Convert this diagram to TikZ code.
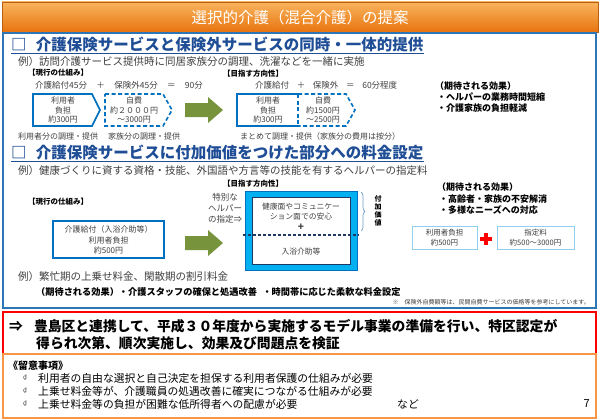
\documentclass[tikz,border=0pt]{standalone}
\usepackage{fontspec}
\setmainfont{Noto Sans CJK JP}
\newfontfamily\dejavu{DejaVu Sans}
\usetikzlibrary{decorations.pathreplacing}
\definecolor{obarA}{HTML}{F9B45E}
\definecolor{obarB}{HTML}{E8740F}
\definecolor{fblue}{HTML}{2E75B6}
\definecolor{tblue}{HTML}{1F4E96}
\definecolor{bblue}{HTML}{0070C0}
\definecolor{agreen}{HTML}{77933C}
\definecolor{cyanb}{HTML}{00B0F0}
\definecolor{navy}{HTML}{1F3864}
\definecolor{lblue}{HTML}{8ED0EE}
\definecolor{txt}{HTML}{404040}
\definecolor{obox}{HTML}{F79646}
\newcommand\fsz[2]{\fontsize{#1}{#2}\selectfont}
\begin{document}
\begin{tikzpicture}[x=1pt,y=-1pt,
  lbl/.style={inner sep=0pt, anchor=west, text=txt},
  ctr/.style={inner sep=0pt, align=center, text=txt},
  hd/.style={inner sep=0pt, anchor=west, font=\fsz{7.5}{9}\bfseries, text=black},
  eff/.style={inner sep=0pt, anchor=west, font=\fsz{9}{11}\bfseries, text=black},
  sect/.style={inner sep=0pt, anchor=west, font=\fsz{15.5}{18}\bfseries, text=tblue},
  sbox/.style={draw=bblue, line width=1.6pt, line join=miter},
  dbox/.style={draw=bblue, line width=1.6pt, dash pattern=on 4pt off 2.5pt},
]
\useasboundingbox (0,0) rectangle (600,420);
\fill[white] (0,0) rectangle (600,420);
% title bar
\shade[top color=obarA, bottom color=obarB] (2,2) rectangle (598,32);
\draw[obarB!80!black, line width=0.5pt] (2,2) rectangle (598,32);
\node[text=white, font=\fsz{15.5}{18}, inner sep=0pt] (title) at (300,18) {選択的介護（混合介護）の提案};
% main frame
\draw[fblue, line width=1.5pt] (3,33) rectangle (596,308);

% ---- section 1
\node[sect] (s1) at (11,45) {□\hspace{0.6em}介護保険サービスと保険外サービスの同時・一体的提供};
\draw[tblue, line width=1pt] ([yshift=-2.5pt]s1.base west) -- ([yshift=-2.5pt]s1.base east);
\node[lbl, font=\fsz{10.5}{12}] (ex1) at (18,62) {例）訪問介護サービス提供時に同居家族分の調理、洗濯などを一緒に実施};
\node[hd] (cur1) at (28,73) {【現行の仕組み】};
\node[hd] (aim1) at (223,74) {【目指す方向性】};
\node[lbl, font=\fsz{8.5}{10}] (eq1) at (35,85) {介護給付45分\hspace{1.1em}＋\hspace{1.1em}保険外45分\hspace{1.1em}＝\hspace{1.1em}90分};
\node[lbl, font=\fsz{8.5}{10}] (eq2) at (255,85) {介護給付\hspace{0.9em}＋\hspace{0.9em}保険外\hspace{0.9em}＝\hspace{0.9em}60分程度};
% boxes row 1
\draw[sbox] (33,94) -- (92,94) -- (100,110) -- (92,126) -- (33,126) -- cycle;
\node[ctr, font=\fsz{8}{9.5}] (b1) at (63,110) {利用者\\負担\\約300円};
\draw[dbox] (105,94) -- (163,94) -- (172,110) -- (163,126) -- (105,126) -- cycle;
\node[ctr, font=\fsz{8}{9.5}] (b2) at (134,110) {自費\\約２０００円\\～3000円};
\draw[sbox] (298,94) -- (237,94) -- (237,126) -- (298,126);
\draw[dbox] (298,94) -- (298,126);
\draw[dbox] (298,94) -- (346,94) -- (355,110) -- (346,126) -- (298,126);
\node[ctr, font=\fsz{8}{9.5}] (b3) at (268,110) {利用者\\負担\\約300円};
\node[ctr, font=\fsz{8}{9.5}] (b4) at (323,110) {自費\\約1500円\\～2500円};
\node[lbl, font=\fsz{8}{10}] (l1) at (18,136) {利用者分の調理・提供};
\node[lbl, font=\fsz{8}{10}] (l2) at (108,136) {家族分の調理・提供};
\node[lbl, font=\fsz{8}{10}] (l3) at (240,136) {まとめて調理・提供（家族分の費用は按分）};
\fill[agreen] (185,103) -- (208,103) -- (208,97) -- (223,110) -- (208,123) -- (208,117) -- (185,117) -- cycle;
\node[eff] (e1) at (435,86) {（期待される効果）};
\node[eff] (e2) at (437,97) {・ヘルパーの業務時間短縮};
\node[eff] (e3) at (437,108) {・介護家族の負担軽減};

% ---- section 2
\node[sect] (s2) at (11,153) {□\hspace{0.6em}介護保険サービスに付加価値をつけた部分への料金設定};
\draw[tblue, line width=1pt] ([yshift=-2.5pt]s2.base west) -- ([yshift=-2.5pt]s2.base east);
\node[lbl, font=\fsz{10.5}{12}] (ex2) at (18,171) {例）健康づくりに資する資格・技能、外国語や方言等の技能を有するヘルパーの指定料};
\node[hd] (aim2) at (223,184) {【目指す方向性】};
\node[hd] (cur2) at (28,202) {【現行の仕組み】};
\draw[bblue, line width=1.3pt] (53,221) rectangle (164,258);
\node[ctr, font=\fsz{8}{10.5}] (b5) at (108.5,240) {介護給付（入浴介助等）\\利用者負担\\約500円};
\fill[agreen] (185,236) -- (208,236) -- (208,230) -- (223,243) -- (208,256) -- (208,250) -- (185,250) -- cycle;
\node[ctr, font=\fsz{8.5}{11}] (sp) at (225,208) {特別な\\ヘルパー\\の指定⇒};
\fill[cyanb] (245,191) rectangle (357,270);
\draw[bblue, line width=0.6pt] (245,191) rectangle (357,270);
\fill[white] (252,197) rectangle (350,264);
\draw[navy, line width=1pt] (252,197) rectangle (350,264);
\draw[navy, line width=1.3pt, dash pattern=on 3pt off 2pt] (243,235) -- (359,235);
\node[ctr, font=\fsz{7.8}{10}] (bx1) at (301,212) {健康面やコミュニケー\\ション面での安心};
\node[ctr, font=\fsz{10}{10}\bfseries] (bx2) at (301,227) {+};
\node[ctr, font=\fsz{7.8}{10}] (bx3) at (301,252) {入浴介助等};
\draw[fblue!70, line width=0.7pt, decorate, decoration={brace, amplitude=4pt}] (361,192) -- (361,231);
\node[ctr, font=\fsz{7}{7.8}\bfseries, text=black] (fk) at (378,211) {付\\加\\価\\値};
\node[eff] (e4) at (437,187) {（期待される効果）};
\node[eff] (e5) at (439,199) {・高齢者・家族の不安解消};
\node[eff] (e6) at (439,210) {・多様なニーズへの対応};
\draw[lblue, line width=0.9pt] (412,226) rectangle (477,249);
\node[ctr, font=\fsz{7.5}{9.5}] (rb1) at (444.5,237.5) {利用者負担\\約500円};
\fill[red] (480,237) rectangle (492,241);
\fill[red] (484,233) rectangle (488,245);
\draw[lblue, line width=0.9pt] (497,226) rectangle (574,249);
\node[ctr, font=\fsz{7.5}{9.5}] (rb2) at (535.5,237.5) {指定料\\約500～3000円};
\node[lbl, font=\fsz{10.5}{12}] (ex3) at (18,277) {例）繁忙期の上乗せ料金、閑散期の割引料金};
\node[eff, font=\fsz{9.2}{11}\bfseries] (e7) at (36,292) {（期待される効果）・介護スタッフの確保と処遇改善\hspace{0.6em}・時間帯に応じた柔軟な料金設定};
\node[inner sep=0pt, anchor=east, font=\fsz{6}{7}, text=txt] (note) at (590,302) {※\hspace{1em}保険外自費額等は、民間自費サービスの価格等を参考にしています。};

% ---- red box
\draw[red, line width=1.3pt] (3,312) rectangle (596,354);
\node[inner sep=0pt, anchor=west, font=\fsz{13.8}{16}\bfseries] (r1) at (9,326) {⇒\hspace{0.8em}豊島区と連携して、平成３０年度から実施するモデル事業の準備を行い、特区認定が};
\node[inner sep=0pt, anchor=west, font=\fsz{13.8}{16}\bfseries] (r2) at (36,343) {得られ次第、順次実施し、効果及び問題点を検証};

% ---- orange box
\draw[obox, line width=1.3pt] (3,354) rectangle (596,418);
\node[inner sep=0pt, anchor=west, font=\fsz{10}{12}\bfseries] (rj) at (8,366) {《留意事項》};
\node[inner sep=0pt, anchor=west, font=\dejavu\fsz{6}{7}, text=txt] (k1) at (23,378) {₫};
\node[inner sep=0pt, anchor=west, font=\dejavu\fsz{6}{7}, text=txt] (k2) at (23,391) {₫};
\node[inner sep=0pt, anchor=west, font=\dejavu\fsz{6}{7}, text=txt] (k3) at (23,404) {₫};
\node[lbl, font=\fsz{10.8}{12}, text=black] (i1) at (38,378) {利用者の自由な選択と自己決定を担保する利用者保護の仕組みが必要};
\node[lbl, font=\fsz{10.8}{12}, text=black] (i2) at (38,391) {上乗せ料金等が、介護職員の処遇改善に確実につながる仕組みが必要};
\node[lbl, font=\fsz{10.8}{12}, text=black] (i3) at (38,404) {上乗せ料金等の負担が困難な低所得者への配慮が必要};
\node[lbl, font=\fsz{10.8}{12}, text=black] (nado) at (397,404) {など};
\node[inner sep=0pt, anchor=east, font=\fsz{11}{12}] (pg) at (590,404) {7};
\end{tikzpicture}
\end{document}
